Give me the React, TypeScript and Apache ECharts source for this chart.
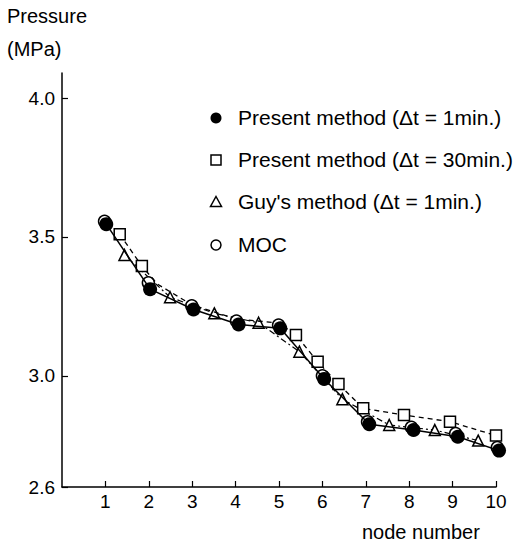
import React, { useEffect, useRef } from "react";
import * as echarts from "echarts";

const xTickValues = [1, 2, 3, 4, 5, 6, 7, 8, 9, 10];
const yTickValues = [2.6, 3.0, 3.5, 4.0];

const present1X = [1.02, 2.03, 3.03, 4.07, 5.03, 6.04, 7.08, 8.1, 9.12, 10.07];
const present1Y = [3.546, 3.312, 3.239, 3.185, 3.171, 2.989, 2.826, 2.805, 2.781, 2.731];

const mocX = [0.98, 1.99, 2.99, 4.02, 4.99, 6.0, 7.04, 8.05, 9.07, 10.03];
const mocY = [3.556, 3.335, 3.252, 3.197, 3.183, 3.0, 2.835, 2.815, 2.792, 2.742];

const present30X = [1.33, 1.84, 2.2, 3.0, 4.0, 5.0, 5.39, 5.89, 6.37, 6.94, 7.88, 8.94, 10.0];
const present30Y = [3.51, 3.395, 3.33, 3.255, 3.205, 3.19, 3.147, 3.051, 2.971, 2.883, 2.859, 2.835, 2.785];
const present30Marked = [true, true, false, false, false, false, true, true, true, true, true, true, true];

const guyX = [1.44, 2.49, 3.51, 4.53, 5.47, 6.46, 7.54, 8.59, 9.59];
const guyY = [3.435, 3.283, 3.225, 3.191, 3.087, 2.916, 2.823, 2.805, 2.767];

const legendLabels = [
  "Present method (\u0394t = 1min.)",
  "Present method (\u0394t = 30min.)",
  "Guy's method (\u0394t = 1min.)",
  "MOC",
];

const FONT = "'Liberation Sans', Arial, sans-serif";

export default function App() {
  const ref = useRef<HTMLDivElement>(null);
  useEffect(() => {
    if (!ref.current) return;
    const chart = echarts.init(ref.current, undefined, { renderer: "svg" });
    const legendYs = [118, 160, 202, 245];
    const lx = 216;
    const sym = [
      { type: "circle", shape: { cx: lx, cy: legendYs[0], r: 5.5 }, style: { fill: "#000" } },
      { type: "rect", shape: { x: lx - 5, y: legendYs[1] - 5, width: 10, height: 10 }, style: { fill: "#fff", stroke: "#000", lineWidth: 1.5 } },
      { type: "polygon", shape: { points: [[lx, legendYs[2] - 5.5], [lx + 5.5, legendYs[2] + 4.5], [lx - 5.5, legendYs[2] + 4.5]] }, style: { fill: "#fff", stroke: "#000", lineWidth: 1.5 } },
      { type: "circle", shape: { cx: lx, cy: legendYs[3], r: 5 }, style: { fill: "#fff", stroke: "#000", lineWidth: 1.5 } },
    ];
    const legendTexts = legendLabels.map((t, i) => ({
      type: "text",
      left: 238,
      top: legendYs[i] - 11,
      style: { text: t, fill: "#000", font: `21px ${FONT}`, textVerticalAlign: "top" },
    }));
    chart.setOption({
      animation: false,
      backgroundColor: "#fff",
      grid: { left: 62, right: 21, top: 73, bottom: 56, containLabel: false },
      xAxis: {
        type: "value",
        min: 0,
        max: 10,
        interval: 1,
        splitLine: { show: false },
        axisLine: { lineStyle: { color: "#000", width: 1.5 } },
        axisTick: { inside: true, length: 6, customValues: xTickValues, lineStyle: { color: "#000", width: 1.2 } },
        axisLabel: { customValues: xTickValues, color: "#000", fontSize: 19, fontFamily: FONT, margin: 5 },
      },
      yAxis: {
        type: "value",
        min: 2.6,
        max: 4.09,
        splitLine: { show: false },
        axisLine: { lineStyle: { color: "#000", width: 1.5 } },
        axisTick: { inside: true, length: 6, customValues: yTickValues, lineStyle: { color: "#000", width: 1.2 } },
        axisLabel: {
          customValues: yTickValues,
          color: "#000",
          fontSize: 19,
          fontFamily: FONT,
          margin: 7,
          formatter: (v: number) => v.toFixed(1),
        },
      },
      graphic: [
        { type: "text", left: 7, top: 6, style: { text: "Pressure", fill: "#000", font: `20px ${FONT}` } },
        { type: "text", left: 7, top: 39, style: { text: "(MPa)", fill: "#000", font: `20px ${FONT}` } },
        { type: "text", left: 362, top: 522, style: { text: "node number", fill: "#000", font: `20px ${FONT}` } },
        ...sym,
        ...legendTexts,
      ],
      series: [
        {
          type: "line",
          name: legendLabels[2],
          clip: false,
          data: guyX.map((x, i) => [x, guyY[i]]),
          symbol: "triangle",
          symbolSize: 11,
          lineStyle: { color: "#000", width: 1.2, type: [6, 3, 2, 3] },
          itemStyle: { color: "#fff", borderColor: "#000", borderWidth: 1.5 },
          z: 2,
        },
        {
          type: "line",
          name: legendLabels[1],
          clip: false,
          data: present30X.map((x, i) =>
            present30Marked[i] ? [x, present30Y[i]] : { value: [x, present30Y[i]], symbol: "none" }
          ),
          symbol: "rect",
          symbolSize: 11,
          lineStyle: { color: "#000", width: 1.3, type: [5, 4] },
          itemStyle: { color: "#fff", borderColor: "#000", borderWidth: 1.5 },
          z: 3,
        },
        {
          type: "line",
          name: legendLabels[3],
          clip: false,
          data: mocX.map((x, i) => [x, mocY[i]]),
          symbol: "circle",
          symbolSize: 12,
          lineStyle: { width: 0 },
          itemStyle: { color: "#fff", borderColor: "#000", borderWidth: 1.5 },
          z: 4,
        },
        {
          type: "line",
          name: legendLabels[0],
          clip: false,
          data: present1X.map((x, i) => [x, present1Y[i]]),
          symbol: "circle",
          symbolSize: 14,
          lineStyle: { color: "#000", width: 1.5 },
          itemStyle: { color: "#000", borderColor: "#000", borderWidth: 0 },
          z: 5,
        },
      ],
    });
    return () => chart.dispose();
  }, []);
  return <div ref={ref} style={{ position: "fixed", left: 0, top: 0, width: 517, height: 543 }} />;
}
